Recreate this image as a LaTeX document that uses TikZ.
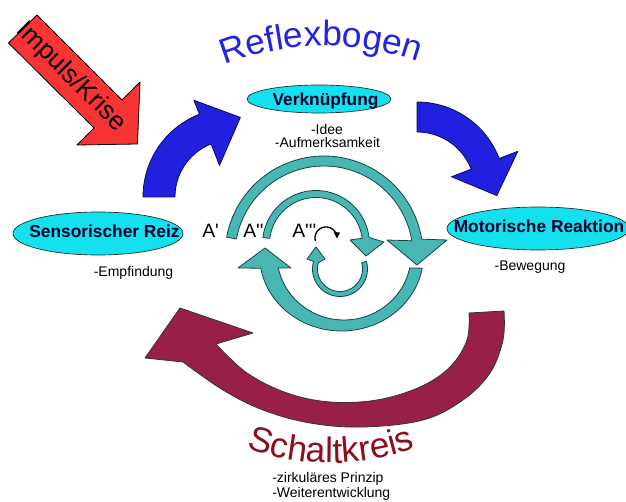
\documentclass[tikz,border=0pt]{standalone}
\usepackage{fontspec}
\setmainfont{Liberation Sans}
\usetikzlibrary{shapes.geometric,decorations.text,arrows.meta}
\definecolor{refblue}{RGB}{35,35,225}
\definecolor{arrowblue}{RGB}{32,32,222}
\definecolor{arrowblueedge}{RGB}{10,10,90}
\definecolor{maroonfill}{RGB}{152,32,72}
\definecolor{maroontext}{RGB}{140,15,30}
\definecolor{tealfill}{RGB}{72,182,178}
\definecolor{tealedge}{RGB}{20,70,70}
\definecolor{cyanfill}{RGB}{20,225,240}
\definecolor{redfill}{RGB}{250,52,52}
\definecolor{labeltext}{RGB}{0,0,40}
\tikzset{
  bluearrow/.style={fill=arrowblue, draw=arrowblueedge, line width=0.6pt, line join=round},
  maroonarrow/.style={fill=maroonfill, draw=black!80, line width=0.6pt, line join=round},
  tealarrow/.style={fill=tealfill, draw=tealedge, line width=0.6pt, line join=round},
  redarrow/.style={fill=redfill, draw=black, line width=0.6pt, line join=round},
  cyanell/.style={ellipse, fill=cyanfill, draw=black!85, line width=0.5pt, inner sep=0pt},
  labelbold/.style={font=\fontsize{13}{15}\selectfont\bfseries, text=labeltext, inner sep=0pt},
  smalltext/.style={font=\fontsize{10.5}{13}\selectfont, text=black, inner sep=0pt},
  alabel/.style={font=\fontsize{14.5}{16}\selectfont, text=black, inner sep=0pt},
}
\begin{document}
\begin{tikzpicture}[x=0.75pt,y=-0.75pt]
\useasboundingbox (0,0) rectangle (626,502);
\clip (0,0) rectangle (626,502);
\fill[white] (0,0) rectangle (626,502);

% curved titles
\path[decorate, decoration={text along path, text align=center,
  text={|\fontsize{26.5}{30}\selectfont\color{refblue}|Reflexbogen}}]
  plot[domain=-113:-69, samples=60] ({326+278*cos(\x)},{324+278*sin(\x)});
\path[decorate, decoration={text along path, text align=center,
  text={|\fontsize{26.5}{30}\selectfont\color{maroontext}|Schaltkreis}}]
  plot[domain=110:70, samples=60] ({331+254*cos(\x)},{209+254*sin(\x)});

% Impuls/Krise arrow
\filldraw[redarrow] (8.5,43) -- (37,15) -- (122,100) -- (140,82) -- (137.5,144) -- (77,145) -- (94,128) -- cycle;
\node[font=\fontsize{19.5}{20}\selectfont, rotate=-45, inner sep=0pt] (impuls) at (71,77) {Impuls/Krise};

% blue arrows
\filldraw[bluearrow] plot[domain=180:248.5,samples=40] ({232+89*cos(\x)},{197+89*sin(\x)})
 -- ({232+104*cos(248.5)},{197+104*sin(248.5)})
 -- ({232+80*cos(276)},{197+80*sin(276)})
 -- ({232+34*cos(248.5)},{197+34*sin(248.5)})
 -- plot[domain=248.5:180,samples=40] ({232+57*cos(\x)},{197+57*sin(\x)}) -- cycle;
\filldraw[bluearrow] plot[domain=-90:-21,samples=40] ({417+88*cos(\x)},{190+88*sin(\x)})
 -- ({417+108*cos(-21)},{190+108*sin(-21)})
 -- ({417+80*cos(4)},{190+80*sin(4)})
 -- ({417+37*cos(-21)},{190+37*sin(-21)})
 -- plot[domain=-21:-90,samples=40] ({417+58*cos(\x)},{190+58*sin(\x)}) -- cycle;

% maroon arrow
\filldraw[maroonarrow] plot[smooth, tension=0.6] coordinates {(504,311) (503,340) (490,373) (463,400) (423,420) (363,427) (310,423) (263,410) (223,390) (183,362)}
 -- (145,358) -- (180,308) -- (253,333)
 -- plot[smooth, tension=0.6] coordinates {(216,344) (247,373) (287,393) (330,402) (377,400) (420,387) (450,367) (467,340) (469,313)} -- cycle;

% teal loops
\filldraw[tealarrow] plot[domain=190.4:350.8,samples=50] ({324+99*cos(\x)},{255+99*sin(\x)})
 -- (447,240) -- (417,265) -- (387,240)
 -- plot[domain=350.8:190.4,samples=50] ({324+89*cos(\x)},{255+89*sin(\x)}) -- cycle;
\filldraw[tealarrow] plot[domain=10:170,samples=50] ({341.5+82*cos(\x)},{255+76*sin(\x)})
 -- (238,268) -- (265,248) -- (291,268)
 -- plot[domain=168.5:11.5,samples=50] ({344+67*cos(\x)},{255+65*sin(\x)}) -- cycle;
\filldraw[tealarrow] plot[domain=187:353,samples=50] ({316+53.5*cos(\x)},{244+53.5*sin(\x)})
 -- (384,242) -- (366,256) -- (350,240)
 -- plot[domain=353:187,samples=50] ({316+46.5*cos(\x)},{244+46.5*sin(\x)}) -- cycle;
\filldraw[tealarrow] plot[domain=-16:196,samples=50] ({340+27.5*cos(\x)},{269+27.5*sin(\x)})
 -- (307,259) -- (316,247) -- (325,259)
 -- plot[domain=196:-16,samples=50] ({340+22.5*cos(\x)},{269+22.5*sin(\x)}) -- cycle;
\draw[line width=1pt, -{Triangle[length=4.5pt,width=4.5pt]}] plot[domain=165:362,samples=40] ({326+11*cos(\x)},{238+11*sin(\x)});

% labels A
\node[alabel, anchor=base west] (a1) at (202,238) {A\textquotesingle};
\node[alabel, anchor=base west] (a2) at (243,238) {A\textquotesingle\textquotesingle};
\node[alabel, anchor=base west] (a3) at (292,238) {A\textquotesingle\textquotesingle\textquotesingle};

% ellipses
\node[cyanell, minimum width=108pt, minimum height=21pt] (verk) at (319,99) {};
\node[labelbold, anchor=base] (verkt) at (325.5,106) {Verknüpfung};
\node[cyanell, minimum width=127.5pt, minimum height=32.25pt] (sens) at (98,233.5) {};
\node[labelbold, anchor=base] (senst) at (104.5,238) {Sensorischer Reiz};
\node[cyanell, minimum width=136.5pt, minimum height=32.25pt] (motor) at (538,228.5) {};
\node[labelbold, anchor=base] (motort) at (539,233) {Motorische Reaktion};

% small texts
\node[smalltext, anchor=base] (idee) at (327,135) {-Idee};
\node[smalltext, anchor=base] (aufm) at (327.5,148) {-Aufmerksamkeit};
\node[smalltext, anchor=base] (empf) at (133.5,277) {-Empfindung};
\node[smalltext, anchor=base] (beweg) at (530,271) {-Bewegung};
\node[smalltext, anchor=base west] (zirk) at (272,483) {-zirkuläres Prinzip};
\node[smalltext, anchor=base west] (weit) at (272,498) {-Weiterentwicklung};
\end{tikzpicture}
\end{document}
